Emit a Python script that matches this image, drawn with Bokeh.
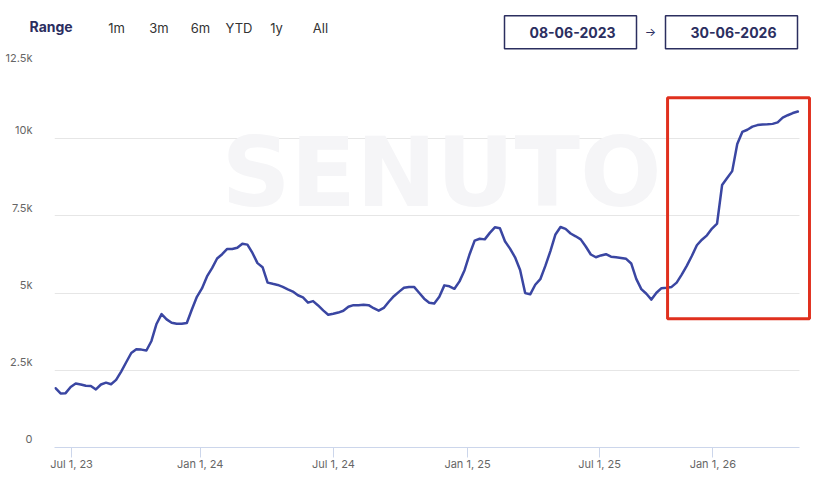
from bokeh.plotting import figure
from bokeh.layouts import column
from bokeh.models import FixedTicker, Label, BoxAnnotation, Range1d
from bokeh.embed import file_html
from bokeh.resources import INLINE

# ---- data (weekly points, ordinal x axis) ----
values = [
    1920, 1750, 1760, 1960, 2070, 2040, 2000, 1990, 1880, 2040,
    2100, 2050, 2190, 2460, 2760, 3060, 3180, 3170, 3140, 3450,
    4000, 4320, 4150, 4040, 4010, 4010, 4030, 4470, 4880, 5150,
    5540, 5810, 6120, 6260, 6430, 6430, 6470, 6600, 6570, 6300,
    5970, 5840, 5340, 5300, 5265, 5200, 5120, 5050, 4930, 4860,
    4690, 4740, 4600, 4440, 4300, 4330, 4370, 4430, 4560, 4610,
    4610, 4625, 4610, 4510, 4430, 4520, 4720, 4900, 5040, 5170,
    5200, 5200, 5010, 4820, 4690, 4660, 4880, 5250, 5220, 5140,
    5380, 5740, 6260, 6700, 6760, 6740, 6950, 7130, 7100, 6680,
    6440, 6160, 5750, 5000, 4960, 5270, 5450, 5880, 6360, 6900,
    7140, 7080, 6930, 6840, 6740, 6510, 6250, 6160, 6220, 6260,
    6180, 6160, 6140, 6110, 5960, 5460, 5130, 4980, 4790, 5010,
    5160, 5170, 5200, 5340, 5600, 5880, 6200, 6550, 6730, 6870,
    7090, 7250, 8500, 8730, 8950, 9830, 10220, 10290, 10390, 10440,
    10460, 10465, 10480, 10530, 10680, 10760, 10830, 10880,
]
points = list(range(len(values)))

x_tick_labels = ["Jul 1, 23", "Jan 1, 24", "Jul 1, 24", "Jan 1, 25", "Jul 1, 25", "Jan 1, 26"]
x_tick_pos = [3.17, 28.65, 55.05, 81.58, 107.72, 130.16]

y_ticks = [0, 2500, 5000, 7500, 10000, 12500]
y_tick_labels = ["0", "2.5k", "5k", "7.5k", "10k", "12.5k"]

range_buttons = ["1m", "3m", "6m", "YTD", "1y", "All"]
date_from = "08-06-2023"
date_to = "30-06-2026"

# highlighted region (index / value units)
highlight_left, highlight_right = 121.2, 149.3
highlight_bottom, highlight_top = 4170, 11330

FONT = "Inter"
NAVY = "#2b2e5f"
W = 840

# ---------------- header (range selector + date inputs) ----------------
HEADER_H = 50
hdr = figure(width=W, height=HEADER_H, output_backend="svg", toolbar_location=None,
             x_range=Range1d(0, W), y_range=Range1d(HEADER_H, 0),
             min_border=0)
hdr.axis.visible = False
hdr.grid.visible = False
hdr.outline_line_color = None
hdr.frame_align = False

hdr.add_layout(Label(x=29, y=25.5, text="Range", text_font=FONT, text_font_style="bold",
                     text_font_size="14px", text_color=NAVY,
                     text_align="left", text_baseline="middle"))
btn_x = [116, 158.5, 200, 238.5, 276, 320]
hdr.text(x=btn_x, y=[27.5] * len(btn_x), text=range_buttons, text_font={"value": FONT},
         text_font_size="13px", text_color="#333333", text_align="center",
         text_baseline="middle")

box_left = [504, 665]
box_right = [636, 797]
hdr.quad(left=box_left, right=box_right, top=[15.3, 15.3], bottom=[48.3, 48.3],
         fill_color="white", line_color=NAVY, line_width=1.5)
hdr.text(x=[572, 733], y=[31.5, 31.5], text=[date_from, date_to], text_font={"value": FONT},
         text_font_style="bold", text_font_size="14px", text_color=NAVY,
         text_align="center", text_baseline="middle")
hdr.add_layout(Label(x=650, y=31, text="→", text_font=FONT, text_font_size="12px",
                     text_color=NAVY, text_align="center", text_baseline="middle"))

# ---------------- chart ----------------
X_START, X_AXIS_END, X_FRAME_END = -0.2, 147.33, 149.9
p = figure(width=W, height=478 - HEADER_H, output_backend="svg", toolbar_location=None,
           x_range=Range1d(X_START, X_FRAME_END), y_range=Range1d(0, 12500),
           min_border_left=54, min_border_right=28, min_border_top=11,
           min_border_bottom=31)
p.outline_line_color = None
p.frame_align = False

xa = p.xaxis[0]
xa.ticker = FixedTicker(ticks=x_tick_pos)
xa.major_label_overrides = {t: l for t, l in zip(x_tick_pos, x_tick_labels)}
xa.bounds = (X_START, X_AXIS_END)
xa.axis_line_color = "#ccd6eb"
xa.major_tick_line_color = "#ccd6eb"
xa.major_tick_out = 10
xa.major_tick_in = 0
xa.minor_tick_line_color = None
xa.major_label_standoff = -1
xa.major_label_text_font = FONT
xa.major_label_text_font_size = "11px"
xa.major_label_text_color = "#666666"

ya = p.yaxis[0]
ya.ticker = FixedTicker(ticks=y_ticks)
# trailing empty line lifts each label slightly above its grid line
ya.major_label_overrides = {t: l + "\n" for t, l in zip(y_ticks, y_tick_labels)}
ya.axis_line_color = None
ya.major_tick_line_color = None
ya.minor_tick_line_color = None
ya.major_label_standoff = 16
ya.major_label_text_font = FONT
ya.major_label_text_font_size = "11px"
ya.major_label_text_color = "#666666"

p.xgrid.grid_line_color = None
p.ygrid.grid_line_color = "#e6e6e6"
p.ygrid.ticker = FixedTicker(ticks=y_ticks)
p.ygrid.cross_bounds = (X_START, X_AXIS_END)

# watermark
p.add_layout(Label(x=387, y=274.5, x_units="screen", y_units="screen", text="SENUTO",
                   text_font="DejaVu Sans", text_font_style="bold", text_font_size="96px",
                   text_color="#f5f5f7", text_align="center", text_baseline="middle",
                   level="underlay"))

# series
p.line(points, values, line_color="#3a46a2", line_width=2.5, line_join="round",
       line_cap="round")

# highlight box
p.add_layout(BoxAnnotation(left=highlight_left, right=highlight_right,
                           bottom=highlight_bottom, top=highlight_top,
                           fill_alpha=0, line_color="#e0301e", line_alpha=1.0,
                           line_width=3))

layout = column(hdr, p, spacing=0)
open("out.html", "w").write(file_html(layout, INLINE))
